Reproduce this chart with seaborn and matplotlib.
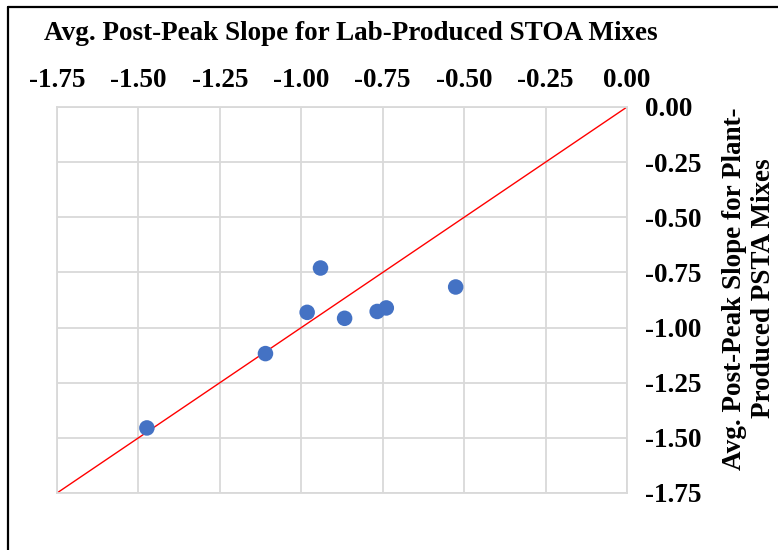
import matplotlib
matplotlib.use("Agg")
import matplotlib.pyplot as plt
import seaborn as sns
import pandas as pd
from matplotlib.lines import Line2D

# Data
lab_stoa = [-1.474, -1.110, -0.982, -0.941, -0.867, -0.767, -0.739, -0.526]
plant_psta = [-1.455, -1.118, -0.931, -0.730, -0.958, -0.927, -0.911, -0.816]
ticks = [-1.75, -1.50, -1.25, -1.00, -0.75, -0.50, -0.25, 0.00]
tick_labels = ["-1.75", "-1.50", "-1.25", "-1.00", "-0.75", "-0.50", "-0.25", "0.00"]
line_pts = [-1.75, 0.0]

df = pd.DataFrame({"lab": lab_stoa, "plant": plant_psta})

sns.set_theme(style="white")
plt.rcParams["font.family"] = ["Liberation Serif", "DejaVu Serif"]
plt.rcParams["font.weight"] = "bold"
plt.rcParams["text.color"] = "black"
plt.rcParams["axes.labelcolor"] = "black"

fig = plt.figure(figsize=(7.78, 5.5), dpi=100)
ax = fig.add_axes([57 / 778, 1 - 493 / 550, (627 - 57) / 778, (493 - 107) / 550])

ax.plot(line_pts, line_pts, color="#FF0000", lw=1.0, zorder=2)
sns.scatterplot(data=df, x="lab", y="plant", ax=ax, s=125, color="#4472C4",
                edgecolor="none", zorder=3)

ax.set_xlim(-1.75, 0)
ax.set_ylim(-1.75, 0)
ax.set_xticks(ticks)
ax.set_yticks(ticks)
ax.set_xticklabels(tick_labels, fontsize=19.5, fontweight="bold")
ax.set_yticklabels(tick_labels, fontsize=19.5, fontweight="bold")
ax.xaxis.tick_top()
ax.yaxis.tick_right()
ax.xaxis.set_label_position("top")
ax.yaxis.set_label_position("right")
ax.tick_params(axis="x", length=0, pad=10, colors="black")
ax.tick_params(axis="y", length=0, pad=13, colors="black")
ax.grid(True, color="#D9D9D9", lw=1.3)
for sp in ax.spines.values():
    sp.set_color("#D9D9D9")
    sp.set_linewidth(1.3)

ax.set_xlabel("Avg. Post-Peak Slope for Lab-Produced STOA Mixes",
              fontsize=19.5, fontweight="bold", labelpad=20, x=0.516, color="black")
ax.set_ylabel("Avg. Post-Peak Slope for Plant-\nProduced PSTA Mixes",
              fontsize=19.5, fontweight="bold", labelpad=15, rotation=90,
              linespacing=1.2, y=0.53, color="black")

# outer frame (left and top visible)
fig.add_artist(Line2D([7.5 / 778, 7.5 / 778], [0, 1 - 6.5 / 550],
                      transform=fig.transFigure, color="black", lw=1.6))
fig.add_artist(Line2D([7.5 / 778, 1], [1 - 6.5 / 550, 1 - 6.5 / 550],
                      transform=fig.transFigure, color="black", lw=1.6))

fig.savefig("out.png", dpi=100)
